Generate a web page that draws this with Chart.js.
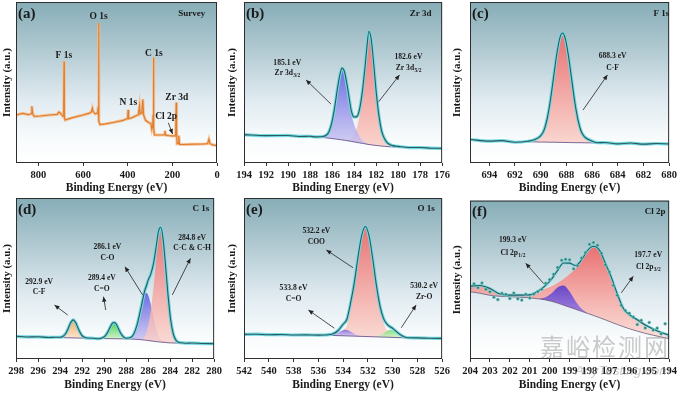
<!DOCTYPE html>
<html><head><meta charset="utf-8">
<script src="https://cdn.jsdelivr.net/npm/chart.js@4.4.1/dist/chart.umd.min.js"></script>
<style>
html,body{margin:0;padding:0;background:#fff;}
#wrap{position:relative;width:680px;height:393px;overflow:hidden;background:#fff;}
canvas{position:absolute;}
.wm1{position:absolute;left:540px;top:334px;font-family:"Noto Sans CJK SC";font-size:24px;line-height:1;letter-spacing:2px;color:rgba(150,150,150,0.5);white-space:nowrap;z-index:5;}
.wm2{position:absolute;left:575px;top:364px;font-family:"Liberation Sans";font-style:italic;font-size:13.5px;line-height:1;color:rgba(150,150,150,0.5);white-space:nowrap;z-index:5;}
</style></head><body>
<div id="wrap">
<canvas id="pa" width="225" height="196" style="left:0;top:0"></canvas>
<canvas id="pb" width="228" height="196" style="left:225px;top:0"></canvas>
<canvas id="pc" width="230" height="196" style="left:450px;top:0"></canvas>
<canvas id="pd" width="225" height="197" style="left:0;top:196px"></canvas>
<canvas id="pe" width="228" height="197" style="left:225px;top:196px"></canvas>
<canvas id="pf" width="230" height="197" style="left:450px;top:196px"></canvas>
<div class="wm1">嘉峪检测网</div>
<div class="wm2">AnyTesting.com</div>
</div>
<script>
// ---------------- (a) Survey ----------------
const aE = [900,870,845,832,829,825,818,790,750,715,708,700,690,686.5,685,683.5,680,650,600,570,562,558,554,545,535,531.5,530,528.5,524,500,460,420,404,400,398,396,380,360,352,347,344,340,336,332,329,320,305,296,292,288,286,284.5,283,280,260,240,236,233,230,215,200,188,185,182.5,181,179,174,171,168,150,100,60,42,36,31,20,0];
const aI = [29.8,30.8,30.0,30.6,35.2,30.5,28.9,29.2,29.8,30.2,31.6,30.8,29.0,29.5,63.0,28.5,26.7,28.0,29.8,31.0,31.8,34.0,31.8,30.5,31.0,35.0,87.0,26.0,23.8,24.3,25.3,26.5,27.5,27.6,33.0,27.5,28.2,29.5,30.0,35.5,30.5,31.0,32.5,39.5,30.0,26.5,25.0,24.5,21.0,23.0,30.0,65.5,21.5,17.5,17.4,17.5,17.6,20.0,17.3,17.0,16.8,16.8,18.0,37.5,20.0,12.0,12.2,17.0,11.6,11.5,11.7,11.8,12.0,14.8,12.0,11.3,10.8];

// ---------------- (b) Zr 3d ----------------
const bE = [194,192,190,189,188,187.5,187,186.5,186.25,186,185.75,185.5,185.25,185.1,184.9,184.75,184.5,184.25,184,183.75,183.5,183.25,183,182.85,182.65,182.45,182.25,182,181.75,181.5,181.25,181,180.5,180,179,178,177,176];
const bData = [17.6,17.0,17.1,16.5,16.6,16.2,16.3,17.4,19.9,25.7,35.0,46.7,56.0,58.9,57.3,52.9,42.7,32.4,28.6,28.8,33.5,44.2,59.9,70.8,81.8,77.3,64.1,44.9,29.7,20.0,15.35,12.7,10.8,10.3,9.6,9.6,9.2,9.1];
const bBg = [17.4,17.1,16.8,16.6,16.3,16.1,15.9,15.6,15.4,15.2,15.0,14.7,14.5,14.35,14.15,14.0,13.7,13.4,13.1,12.8,12.5,12.2,11.9,11.7,11.5,11.3,11.1,10.9,10.7,10.5,10.35,10.2,10.0,9.9,9.7,9.5,9.3,9.1];
const bZr32 = [17.4,17.1,16.8,16.6,16.3,16.1,16.3,17.4,19.9,25.7,35.0,46.7,56.0,58.85,57.15,52.5,41.7,30.4,24.1,19.8,16.5,14.2,12.9,12.3,11.8,11.3,11.1,10.9,10.7,10.5,10.35,10.2,10.0,9.9,9.7,9.5,9.3,9.1];
const bZr52 = [17.4,17.1,16.8,16.6,16.3,16.1,15.9,15.6,15.4,15.2,15.0,14.7,14.5,14.35,14.15,14.0,14.7,15.4,17.6,21.8,29.5,42.2,58.9,70.2,81.5,77.3,64.1,44.9,29.7,20.0,15.35,12.7,10.8,10.1,9.7,9.5,9.3,9.1];

// ---------------- (c) F 1s ----------------
const cE = [695.5,694,693,692,691,690.5,690,689.75,689.5,689.25,689,688.75,688.5,688.3,688.1,687.85,687.6,687.35,687.1,686.85,686.6,686.1,685.6,685,684,683,682,681,680];
const cData = [14.6,13.6,13.9,12.9,13.5,14.4,16.9,20.1,27.3,38.5,52.9,67.4,77.9,80.7,77.8,67.3,52.7,38.2,27.0,19.7,16.4,13.9,12.6,12.7,11.9,12.4,11.7,12.1,11.8];
const cBg = [14.3,13.9,13.5,13.2,13.2,13.1,13.0,13.0,12.95,12.9,12.9,12.85,12.8,12.8,12.75,12.7,12.7,12.65,12.6,12.6,12.55,12.5,12.5,12.4,12.2,12.1,12.0,11.9,11.8];
const cCF = [14.3,13.9,13.5,13.2,13.2,14.3,16.8,20.0,27.25,38.4,52.8,67.35,77.8,80.6,77.75,67.2,52.6,38.15,26.9,19.6,16.35,13.7,12.8,12.4,12.2,12.1,12.0,11.9,11.8];

// ---------------- (d) C 1s ----------------
const dE = [298,297,296,295,294.5,294,293.75,293.5,293.25,293.05,292.8,292.55,292.3,292.05,291.8,291.5,291,290.5,290.2,289.9,289.65,289.4,289.25,289.1,288.95,288.8,288.55,288.3,288.0,287.6,287.3,287.0,286.75,286.5,286.3,286.15,286.0,285.75,285.5,285.25,285.05,284.85,284.65,284.45,284.2,283.95,283.7,283.45,283.2,283,282.5,282,281,280];
const dData = [14.1,13.7,13.8,13.4,13.5,13.5,14.0,15.7,19.1,22.3,24.3,22.2,18.1,15.0,13.5,13.0,12.9,12.6,13.0,14.3,16.9,20.4,22.1,22.7,22.1,20.4,16.8,14.2,12.9,13.3,15.6,21.2,28.45,36.4,42.55,45.5,48.8,52.85,59.6,70.5,79.5,81.8,75.2,61.0,40.6,24.4,15.35,11.5,10.25,10.1,9.8,9.9,9.6,9.5];
const dBgE = [298,294,291,288,287.6,287.3,287.0,286.75,286.5,286.3,286.15,286.0,285.75,285.5,285.25,285.05,284.85,284.65,284.45,284.2,283.95,283.7,283.45,283.2,283,282,280];
const dBg = [13.9,13.3,12.8,12.5,12.4,12.3,12.2,12.05,11.9,11.75,11.6,11.5,11.25,11.0,10.8,10.65,10.5,10.4,10.3,10.1,10.0,9.95,9.9,9.85,9.8,9.7,9.6];
const dCFE = [294,293.75,293.5,293.25,293.05,292.8,292.55,292.3,292.05,291.8,291.5];
const dCF = [13.4,13.9,15.6,19.0,22.2,24.1,22.1,18.0,14.9,13.4,12.9];
const dCdOE = [290.2,289.9,289.65,289.4,289.25,289.1,288.95,288.8,288.55,288.3,288.0];
const dCdO = [12.8,14.25,16.8,20.3,22.0,22.6,22.0,20.3,16.75,14.1,12.6];
const dMainE = [287.6,287.3,287.0,286.75,286.5,286.3,286.15,286.0,285.75,285.5,285.25,285.05,284.85,284.65,284.45,284.2,283.95,283.7,283.45,283.2];
const dCO = [13.3,15.6,21.1,28.25,35.9,40.05,41.0,39.8,33.85,25.6,18.5,14.65,12.3,11.1,10.6,10.2,10.0,9.95,9.9,9.85];
const dCC = [12.4,12.3,12.3,12.25,12.4,14.25,16.1,20.5,30.25,45.0,62.8,75.5,80.0,74.5,60.7,40.5,24.4,15.35,11.5,10.25];

// ---------------- (e) O 1s ----------------
const eE = [542,541,540,539,538,537,536,535.5,535.2,534.8,534.4,534.0,533.7,533.4,533.1,532.8,532.5,532.2,531.9,531.6,531.3,531.0,530.7,530.4,530.0,529.6,529.2,528.8,528,527,526];
const eData = [15.3,15.4,15.1,15.2,14.9,15.0,14.8,14.9,15.1,15.7,17.7,21.6,24.5,34.5,47.0,62.9,76.7,82.3,76.5,62.1,45.4,32.25,24.6,21.25,19.1,16.4,14.25,13.2,13.1,12.9,12.8];
const eBgE = [542,538,535.5,528.8,526];
const eBg = [15.3,15.0,14.8,13.1,12.8];
const eCOOE = [535.2,534.8,534.4,534.0,533.7,533.4,533.1,532.8,532.5,532.2,531.9,531.6,531.3,531.0,530.7,530.4,530.0,529.6,529.2];
const eCOO = [15.0,15.2,15.8,18.1,20.8,31.76,45.6,62.4,76.6,82.3,76.5,62.1,45.1,31.15,22.1,17.2,14.7,13.9,13.5];
const eCdOE = [535.0,534.6,534.3,534.0,533.8,533.6,533.3,533.0,532.6];
const eCdO = [14.87,15.62,16.79,17.92,18.17,17.81,16.54,15.21,14.26];
const eZrOE = [531.35,530.95,530.65,530.35,530.15,529.95,529.65,529.35,528.95];
const eZrO = [13.99,14.94,16.36,17.73,18.03,17.63,16.11,14.53,13.38];

// ---------------- (f) Cl 2p ----------------
const fE = [204,203.5,203,202.5,202,201.5,201,200.5,200.2,199.9,199.6,199.3,199.0,198.7,198.4,198.1,197.8,197.5,197.2,196.9,196.6,196.3,196.0,195.6,195.2,194.8,194.4,194.0];
const fFit = [46.0,46.4,44.5,41.0,40.3,40.3,40.5,43.5,46.5,50.5,56.0,60.6,60.5,59.0,62.5,68.5,71.2,68.7,60.4,51.5,41.0,32.0,28.0,24.8,21.5,19.0,16.8,15.0];
const fBg = [42.5,41.5,40.2,39.6,39.3,39.0,38.6,37.9,37.3,36.4,35.3,34.0,32.7,31.4,30.1,28.8,27.5,26.1,24.7,23.2,21.8,20.4,19.1,17.6,16.2,15.0,13.9,12.8];
const fCl32 = [46.0,46.4,44.5,41.0,40.3,40.3,40.5,42.0,44.5,46.0,48.0,50.5,53.5,57.0,61.5,67.0,70.5,68.5,60.4,51.5,41.0,32.0,28.0,24.8,21.5,19.0,16.8,15.0];
const fCl12E = [200.5,200.2,199.9,199.6,199.3,199.0,198.7,198.4,198.1];
const fCl12 = [38.1,39.0,41.5,45.2,46.4,42.6,36.5,31.8,29.1];
const fRawE = [204.0,203.8,203.6,203.4,203.2,203.0,202.8,202.6,202.4,202.2,202.0,201.8,201.6,201.4,201.2,201.0,200.8,200.6,200.4,200.2,200.0,199.8,199.6,199.4,199.2,199.0,198.8,198.6,198.4,198.2,198.0,197.8,197.6,197.4,197.2,197.0,196.8,196.6,196.4,196.2,196.0,195.8,195.6,195.4,195.2,195.0,194.8,194.6,194.4,194.2,194.0];
const fRaw = [44.5,47.5,45.0,48.0,44.0,42.5,39.0,37.5,41.5,40.8,38.2,41.6,38.0,37.2,40.9,38.5,41.0,42.5,44.0,47.8,50.2,53.5,57.8,62.4,63.0,62.6,56.9,58.8,63.8,67.2,72.5,73.6,71.8,66.8,59.5,55.0,46.5,40.2,34.0,30.6,28.9,26.5,21.8,24.4,19.6,23.1,18.3,19.5,15.9,22.3,14.0];

// ---------------- annotations (data coordinates) ----------------
const notes = {
  pa: { tag: '(a)', text: [['F 1s',686,67,9.5],['O 1s',530,91,9.5],['C 1s',283,68,9.5],['N 1s',397,37.5,9.5],['Zr 3d',180,40.5,9.5],['Cl 2p',228,28.8,9.5],['Survey',113,92.5,9]],
        arrows: [[218,25,199,18]] },
  pb: { tag: '(b)', text: [['185.1 eV',190.07,62.3],['Zr 3d_3/2',190.07,56.1],['182.6 eV',179.06,66.0],['Zr 3d_5/2',179.06,58.8],['Zr 3d',177.95,92.5,9]],
        arrows: [[186.1,36.6,188.36,51.6],[181.76,38.1,179.87,54.7]] },
  pc: { tag: '(c)', text: [['688.3 eV',684.4,66.5],['C-F',684.4,58.8],['F 1s',680.6,92.5,9]],
        arrows: [[686.7,32.9,684.8,54.7]] },
  pd: { tag: '(d)', text: [['292.9 eV',295.9,47.6],['C-F',295.9,41.4],['289.4 eV',290.2,50.1],['C=O',290.2,43.5],['286.1 eV',289.7,69.8],['C-O',289.7,62.9],['284.8 eV',282.0,75.4],['C-C & C-H',282.0,68.7],['C 1s',281.2,93.2,9]],
        arrows: [[293.3,27.3,294.5,33.5],[289.85,30.4,290.05,38.7],[286.5,39.8,288.1,57.3],[283.8,39.8,282.15,62.5]] },
  pe: { tag: '(e)', text: [['532.2 eV',536.16,79.5],['COO',536.16,72.9],['533.8 eV',538.0,43.9],['C=O',538.0,37.1],['530.2 eV',527.45,45.3],['Zr-O',527.45,38.7],['O 1s',527.3,93.2,9]],
        arrows: [[533.2,56.7,535.35,67.7],[534.7,19.1,536.8,30.4],[529.3,19.4,528.1,33.5]] },
  pf: { tag: '(f)', text: [['199.3 eV',201.85,75],['Cl 2p_1/2',201.85,67.1],['197.7 eV',195.05,65.6],['Cl 2p_3/2',195.05,58.0],['Cl 2p',194.7,93.2,9]],
        arrows: [[200.3,47.6,201.2,60.4],[196.4,41.8,195.8,52.2]] }
};

const SERIF = '"Liberation Serif","Times New Roman",serif';
const INK = '#1a1a1a';

function pts(E, V) { return E.map((e, i) => ({ x: e, y: V[i] })); }

function grad(c1, c2) {
  return (ctx) => {
    const ch = ctx.chart, a = ch.chartArea;
    if (!a || !ctx.dataset) return c1;
    const ys = ch.scales.y;
    let hi = -1e9, lo = 1e9;
    ctx.dataset.data.forEach(p => { if (p.y > hi) hi = p.y; if (p.y < lo) lo = p.y; });
    const y0 = ys.getPixelForValue(hi);
    const y1 = Math.max(y0 + 2, ys.getPixelForValue(lo));
    const g = ch.ctx.createLinearGradient(0, y0, 0, y1);
    g.addColorStop(0, c1); g.addColorStop(1, c2);
    return g;
  };
}
function comp(E, V, target, c1, c2, order) {
  return { data: pts(E, V), borderWidth: 0, borderColor: 'rgba(0,0,0,0)', pointRadius: 0,
           fill: { target: target }, backgroundColor: grad(c1, c2), cubicInterpolationMode: 'monotone', order: order };
}
function ln(E, V, color, width, order, straight) {
  const d = { data: pts(E, V), borderColor: color, borderWidth: width, pointRadius: 0, fill: false, order: order };
  if (!straight) d.cubicInterpolationMode = 'monotone';
  return d;
}

function drawRich(c, text, x, y, size) {
  const parts = text.split('_');
  c.font = 'bold ' + size + 'px ' + SERIF;
  const w0 = c.measureText(parts[0]).width;
  let w1 = 0;
  const ss = size * 0.72;
  if (parts[1]) { c.font = 'bold ' + ss + 'px ' + SERIF; w1 = c.measureText(parts[1]).width; }
  const sx = x - (w0 + w1) / 2;
  c.textAlign = 'left'; c.textBaseline = 'middle';
  c.font = 'bold ' + size + 'px ' + SERIF;
  c.fillText(parts[0], sx, y);
  if (parts[1]) { c.font = 'bold ' + ss + 'px ' + SERIF; c.fillText(parts[1], sx + w0 + 0.3, y + size * 0.32); }
}
function arrow(c, x1, y1, x2, y2) {
  c.beginPath(); c.moveTo(x1, y1); c.lineTo(x2, y2); c.stroke();
  const ang = Math.atan2(y2 - y1, x2 - x1), L = 5, W = 2.2;
  const bx = x2 - L * Math.cos(ang), by = y2 - L * Math.sin(ang);
  c.beginPath(); c.moveTo(x2, y2);
  c.lineTo(bx + W * Math.sin(ang), by - W * Math.cos(ang));
  c.lineTo(bx - W * Math.sin(ang), by + W * Math.cos(ang));
  c.closePath(); c.fill();
}

const deco = {
  id: 'deco',
  beforeDraw(chart) {
    const a = chart.chartArea, c = chart.ctx;
    const g = c.createLinearGradient(0, a.top, 0, a.bottom);
    g.addColorStop(0, '#86adb7');
    g.addColorStop(0.3, '#b2cad2');
    g.addColorStop(0.6, '#dfeaf0');
    g.addColorStop(0.85, '#f8fbfc');
    g.addColorStop(1, '#ffffff');
    c.save(); c.fillStyle = g; c.fillRect(a.left, a.top, a.right - a.left, a.bottom - a.top); c.restore();
  },
  afterDraw(chart) {
    const a = chart.chartArea, c = chart.ctx, xs = chart.scales.x, ys = chart.scales.y;
    const n = notes[chart.canvas.id];
    c.save();
    c.strokeStyle = '#2e2e2e'; c.lineWidth = 1;
    c.strokeRect(a.left + 0.5, a.top + 0.5, a.right - a.left - 1, a.bottom - a.top - 1);
    c.fillStyle = INK;
    c.font = 'bold 15px ' + SERIF; c.textAlign = 'left'; c.textBaseline = 'middle';
    c.fillText(n.tag, a.left + 2, a.top + 12);
    n.text.forEach(t => drawRich(c, t[0], xs.getPixelForValue(t[1]), ys.getPixelForValue(t[2]), t[3] || 7.6));
    c.strokeStyle = '#222'; c.fillStyle = '#222'; c.lineWidth = 0.8;
    n.arrows.forEach(r => arrow(c, xs.getPixelForValue(r[0]), ys.getPixelForValue(r[1]), xs.getPixelForValue(r[2]), ys.getPixelForValue(r[3])));
    c.restore();
  }
};

function panel(id, cfg) {
  new Chart(document.getElementById(id), {
    type: 'line',
    data: { datasets: cfg.datasets },
    options: {
      responsive: false, animation: false, events: [],
      layout: { padding: { top: 2, right: cfg.pr, bottom: 0, left: 0 } },
      plugins: { legend: { display: false }, tooltip: { enabled: false } },
      scales: {
        x: { type: 'linear', reverse: true, min: cfg.xr[0], max: cfg.xr[1],
             afterFit: s => { s.height = cfg.xh; },
             ticks: { stepSize: cfg.step, includeBounds: false, autoSkip: false, maxRotation: 0, padding: 3,
                      color: INK, font: { family: SERIF, size: 10.5, weight: 'bold' } },
             grid: { drawOnChartArea: false, drawTicks: true, tickLength: 3, color: '#333' },
             border: { display: false },
             title: { display: true, text: 'Binding Energy (eV)', color: INK,
                      font: { family: SERIF, size: 11.5, weight: 'bold' }, padding: { top: 0, bottom: 1 } } },
        y: { type: 'linear', min: 0, max: 100, afterFit: s => { s.width = cfg.yw; },
             ticks: { display: false }, grid: { display: false }, border: { display: false },
             title: { display: true, text: 'Intensity (a.u.)', color: INK,
                      font: { family: SERIF, size: 11, weight: 'bold' }, padding: { top: 1, bottom: 0 } } }
      }
    },
    plugins: [deco]
  });
}

const GLOW = '#72d8e2', LINE = '#2b5b5c', BGL = '#5b4380';

panel('pa', { xr: [0, 900], step: 200, xh: 33, yw: 16, pr: 8, datasets: [
  ln(aE, aI, '#dd7f33', 1.2, 0, true),
  ln(aE, aI, 'rgba(246,190,140,0.9)', 3, 1, true)
]});

panel('pb', { xr: [176, 194], step: 2, xh: 33, yw: 19, pr: 9, datasets: [
  ln(bE, bBg, BGL, 0.8, 2),
  ln(bE, bData, LINE, 1.1, 0),
  ln(bE, bData, GLOW, 3.2, 1),
  comp(bE, bZr32, 0, 'rgba(92,92,226,0.85)', 'rgba(206,200,242,0.8)', 3),
  comp(bE, bZr52, 0, 'rgba(240,110,110,0.9)', 'rgba(250,206,198,0.85)', 4)
]});

panel('pc', { xr: [680, 695.5], step: 2, xh: 33, yw: 20, pr: 10, datasets: [
  ln(cE, cBg, BGL, 0.8, 2),
  ln(cE, cData, LINE, 1.1, 0),
  ln(cE, cData, GLOW, 3.2, 1),
  comp(cE, cCF, 0, 'rgba(240,104,104,0.9)', 'rgba(250,208,200,0.85)', 3)
]});

panel('pd', { xr: [280, 298], step: 2, xh: 34, yw: 16, pr: 8, datasets: [
  ln(dBgE, dBg, BGL, 0.8, 2),
  ln(dE, dData, LINE, 1.1, 0),
  ln(dE, dData, GLOW, 3.2, 1),
  comp(dCFE, dCF, 0, 'rgba(242,166,92,0.9)', 'rgba(251,224,196,0.85)', 3),
  comp(dCdOE, dCdO, 0, 'rgba(60,205,60,0.9)', 'rgba(200,240,196,0.85)', 3),
  comp(dMainE, dCC, 0, 'rgba(240,108,108,0.85)', 'rgba(250,208,200,0.8)', 4),
  comp(dMainE, dCO, 0, 'rgba(96,96,226,0.9)', 'rgba(208,200,242,0.85)', 5)
]});

panel('pe', { xr: [526, 542], step: 2, xh: 34, yw: 19, pr: 10, datasets: [
  ln(eBgE, eBg, BGL, 0.8, 2),
  ln(eE, eData, LINE, 1.1, 0),
  ln(eE, eData, GLOW, 3.2, 1),
  comp(eCdOE, eCdO, 0, 'rgba(120,100,226,0.85)', 'rgba(206,196,242,0.8)', 3),
  comp(eZrOE, eZrO, 0, 'rgba(110,222,110,0.85)', 'rgba(206,242,200,0.8)', 3),
  comp(eCOOE, eCOO, 0, 'rgba(240,108,108,0.9)', 'rgba(250,210,202,0.85)', 4)
]});

panel('pf', { xr: [194, 204], step: 1, xh: 34, yw: 20, pr: 9, datasets: [
  ln(fE, fBg, '#6a587a', 0.8, 2),
  ln(fE, fFit, LINE, 1.1, 0),
  ln(fE, fFit, GLOW, 2.6, 1),
  { data: pts(fRawE, fRaw), showLine: false, pointRadius: 1.5, pointBorderWidth: 0.6,
    pointBackgroundColor: '#2f7f7c', pointBorderColor: '#7fd8cf', order: -1 },
  comp(fCl12E, fCl12, 0, 'rgba(98,66,200,0.95)', 'rgba(150,120,226,0.9)', 3),
  comp(fE, fCl32, 0, 'rgba(240,104,104,0.9)', 'rgba(251,214,206,0.85)', 4)
]});
</script>
</body></html>
